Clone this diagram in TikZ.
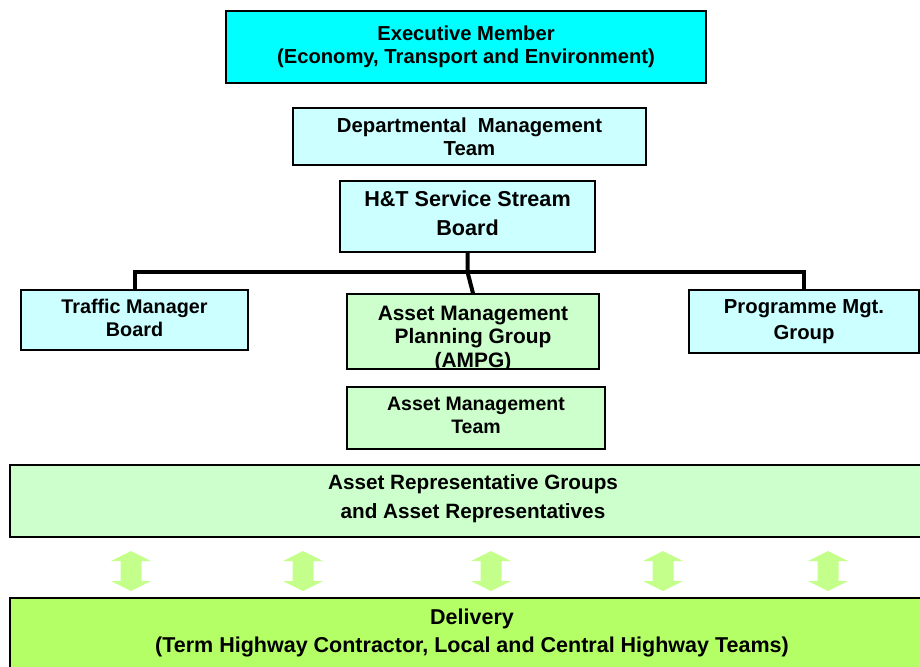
\documentclass[tikz,border=0pt]{standalone}
\usepackage{fontspec}
\setmainfont{Liberation Sans}
\usetikzlibrary{shadows}

\definecolor{execcyan}{RGB}{0,255,255}
\definecolor{palecyan}{RGB}{204,255,255}
\definecolor{palegreen}{RGB}{204,255,204}
\definecolor{limegreen}{RGB}{180,255,102}
\definecolor{arrowgreen}{RGB}{196,255,140}

\newcommand{\boxfont}[2]{\fontsize{#1}{#2}\selectfont\bfseries}

\tikzset{
  box/.style={draw=black, line width=1.5pt, inner sep=0pt,
    drop shadow={shadow xshift=1.2pt, shadow yshift=-1.2pt, fill=black!45, opacity=1}},
  cyanbox/.style={box, fill=palecyan},
  greenbox/.style={box, fill=palegreen},
  boxtext/.style={inner sep=0pt, align=center, font=\boxfont{20}{23}},
  conn/.style={draw=black, line width=4pt},
  updown/.pic={
    \fill[arrowgreen] (0,-20) -- (20,-10) -- (10.5,-10) -- (10.5,10) -- (20,10)
      -- (0,20) -- (-20,10) -- (-10.5,10) -- (-10.5,-10) -- (-20,-10) -- cycle;
  }
}

\begin{document}
\begin{tikzpicture}[x=1pt, y=-1pt]
\useasboundingbox (0,0) rectangle (920,666);
\clip (0,0) rectangle (920,666);

% ---- boxes ----
\node[box, fill=execcyan, minimum width=480pt, minimum height=72pt] (exec) at (466,47) {};
\node[cyanbox, minimum width=353pt, minimum height=57pt] (dmt) at (469.5,136.5) {};
\node[cyanbox, minimum width=255pt, minimum height=71pt] (ht) at (467.5,216.5) {};
\node[cyanbox, minimum width=227pt, minimum height=60pt] (tmb) at (134.5,320) {};
\node[greenbox, minimum width=252pt, minimum height=75pt] (ampg) at (473,331.5) {};
\node[cyanbox, minimum width=230pt, minimum height=63pt] (pmg) at (804,321.5) {};
\node[greenbox, minimum width=258pt, minimum height=62pt] (amt) at (476,418) {};
\node[greenbox, minimum width=924pt, minimum height=72pt] (arg) at (472,501) {};
\node[box, fill=limegreen, minimum width=924pt, minimum height=104pt] (del) at (472,650) {};

% ---- box texts ----
\node[boxtext, font=\boxfont{20.2}{23}] (exec-t) at (466,46.5)
  {Executive Member\\(Economy, Transport and Environment)};
\node[boxtext, font=\boxfont{20.3}{23}] (dmt-t) at (469.5,136.5)
  {Departmental\ \ Management\\Team};
\node[boxtext, font=\boxfont{21.6}{29}] (ht-t) at (467.5,213.5)
  {H\&T Service Stream\\Board};
\node[boxtext, font=\boxfont{19.8}{23}] (tmb-t) at (134.5,318)
  {Traffic Manager\\Board};
\begin{scope}
  % the last line runs into the lower edge of its box
  \clip ([xshift=0.75pt, yshift=-0.75pt]ampg.north west) rectangle ([xshift=-0.75pt, yshift=0.75pt]ampg.south east);
  \node[boxtext, font=\boxfont{20.9}{23.5}] (ampg-t) at (473,338.5)
    {Asset Management\\Planning Group\\(AMPG)};
\end{scope}
\node[boxtext, font=\boxfont{20.3}{26}] (pmg-t) at (804,322)
  {Programme Mgt.\\Group};
\node[boxtext, font=\boxfont{19.5}{23}] (amt-t) at (476,415)
  {Asset Management\\Team};
\node[boxtext, font=\boxfont{20.7}{29}] (arg-t) at (473,499)
  {Asset Representative Groups\\and Asset Representatives};
\node[boxtext, font=\boxfont{21.5}{28}] (del-t) at (472,633)
  {Delivery\\(Term Highway Contractor, Local and Central Highway Teams)};

% ---- connector bus ----
\coordinate (bus) at (0,272);
\draw[conn] (tmb.north) -- (tmb.north |- bus) -- (pmg.north |- bus) -- (pmg.north);
\draw[conn] (ht.south) -- (ht.south |- bus) -- (ampg.north);

% ---- two-way links between representatives and delivery ----
\foreach \x [count=\i] in {131,303,491,663,828}
  \pic (link\i) at (\x,571) {updown};
\end{tikzpicture}
\end{document}
